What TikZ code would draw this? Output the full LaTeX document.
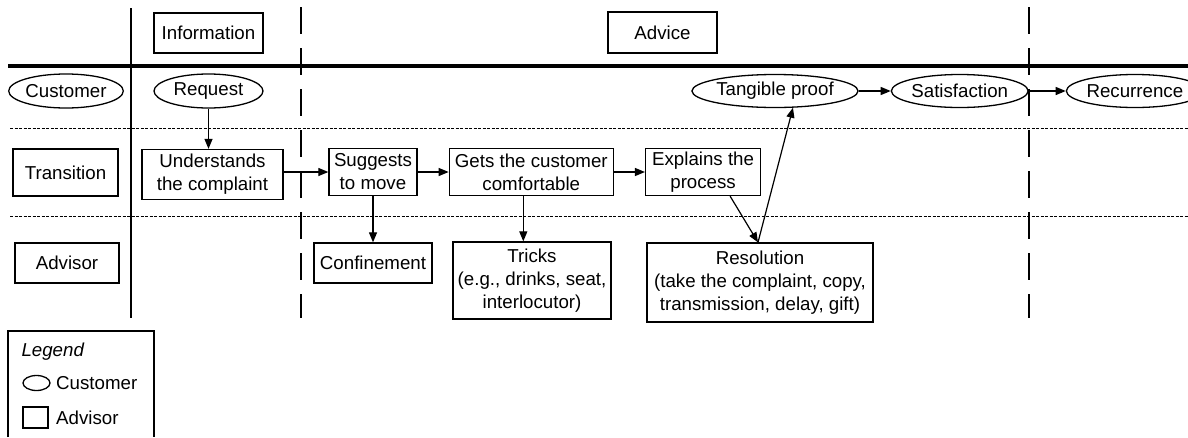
\documentclass[tikz,border=0pt]{standalone}
\usepackage{fontspec}
\setmainfont{Liberation Sans}
\usetikzlibrary{positioning,shapes.geometric,arrows.meta}

\begin{document}
\begin{tikzpicture}[x=1pt,y=-1pt,
  >={Triangle[length=10pt,width=8pt]},
  every node/.style={font=\fontsize{18.7}{23}\selectfont,align=center},
  act/.style={draw,line width=1.3pt,inner sep=0pt,minimum height=47pt},
  evt/.style={draw,ellipse,line width=1.3pt,inner sep=0pt,minimum height=33pt},
  lane/.style={dash pattern=on 3pt off 1.5pt,line width=1pt},
  phase/.style={line width=2.8pt,dash pattern=on 27pt off 14pt}]

\useasboundingbox (0,0) rectangle (1188,437);

%the grid of phases and lanes
\draw [line width=3.2pt] (8,66) -- (1188,66);
\draw [line width=2.8pt] (131,8) -- (131,318);
\draw [phase] (301,7) -- (301,318);
\draw [phase] (1029,7) -- (1029,318);
\draw [lane] (10,128) -- (1188,128);
\draw [lane] (10,216) -- (1188,216);

%the phase headings
\node [act,minimum width=109pt,minimum height=40pt] (info) at (208.5,33) {Information};
\node [act,minimum width=109pt,minimum height=41pt] (advice) at (662.5,32.5) {Advice};

%the lane names
\node [evt,minimum width=110pt,minimum height=34pt] (customer) at (66,91) {Customer};
\node [act,minimum width=105pt] (transition) at (65.5,172.5) {Transition};
\node [act,minimum width=104pt,minimum height=40pt] (advisor) at (67,263) {Advisor};

%the customer lane
\node [evt,minimum width=109pt,minimum height=34pt] (request) at (208.5,91) {Request};
\node [evt,minimum width=160pt] (proof) at (775,91) {Tangible proof};
\node [evt,minimum width=126pt,right=32pt of proof] (satisfaction) {Satisfaction};
\node [evt,minimum width=137pt,right=37pt of satisfaction] (recurrence) {Recurrence};

%the transition lane
\node [act,minimum width=141pt,minimum height=50pt] (understand) at (212.5,174.5) {Understands\\the complaint};
\node [act,minimum width=88pt] (suggest) at (373,172) {Suggests\\to move};
\node [act,minimum width=164pt,right=31pt of suggest] (comfort) {Gets the customer\\comfortable};
\node [act,minimum width=115pt,right=31pt of comfort] (explain) {Explains the\\process};

%the advisor lane
\node [act,minimum width=118pt,minimum height=40pt] (confine) at (373,263) {Confinement};
\node [act,minimum width=158pt,minimum height=77pt] (tricks) at (532,280.5) {Tricks\\(e.g., drinks, seat,\\interlocutor)};
\node [act,minimum width=226pt,minimum height=79pt] (resolution) at (760,282.5) {Resolution\\(take the complaint, copy,\\transmission, delay, gift)};

%the legend
\draw [line width=1.3pt] (8,437) -- (8,331) -- (154,331) -- (154,437);
\node [right,font=\fontsize{18.7}{23}\selectfont\itshape] (legend) at (18,352) {Legend};
\node [evt,minimum width=27pt,minimum height=15pt] (keyevt) at (36.5,383) {};
\node [right=2pt of keyevt] (keyevtname) {Customer};
\node [act,minimum width=25pt,minimum height=21pt] (keyact) at (35.5,417.5) {};
\node [right=4pt of keyact] (keyactname) {Advisor};

%the arrows of the flow
\begin{scope}[line width=1.2pt]
\draw[->] (request.south) -- (request.south |- understand.north);
\draw[->] (understand.east |- suggest.west) -- (suggest.west);
\draw[->] (suggest.east) -- (comfort.west);
\draw[->] (comfort.east) -- (explain.west);
\draw[->] (suggest.south) -- (confine.north);
\draw[->] ([xshift=-8pt]comfort.south) -- ([xshift=-8pt]comfort.south |- tricks.north);
\draw[->] ([xshift=27pt]explain.south) -- ([xshift=-2pt]resolution.north);
\draw[->] ([xshift=-2pt]resolution.north) -- (proof.-43);
\draw[->] (proof.east) -- (satisfaction.west);
\draw[->] (satisfaction.east) -- (recurrence.west);
\end{scope}

\end{tikzpicture}
\end{document}
